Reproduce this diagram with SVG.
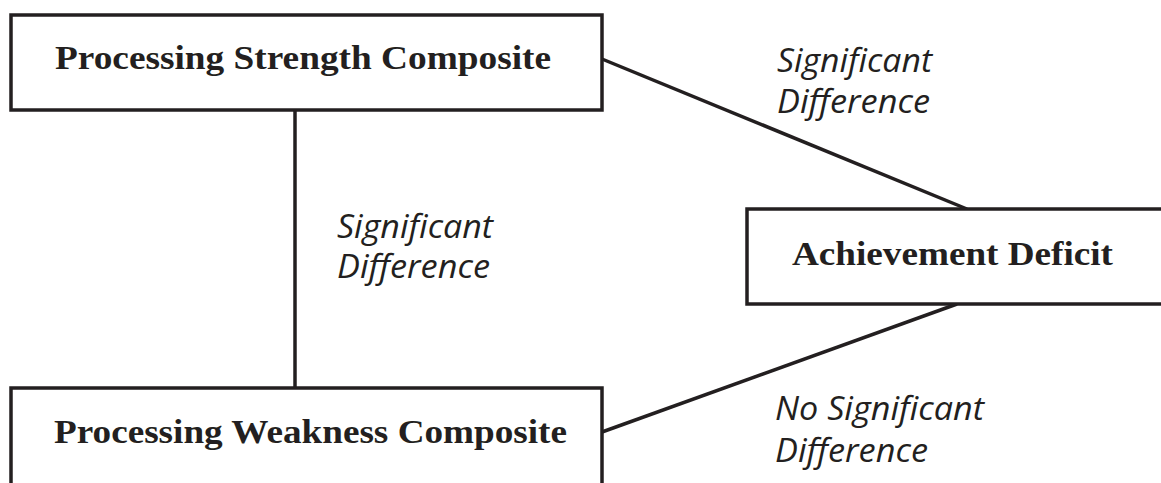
<svg xmlns="http://www.w3.org/2000/svg" width="1161" height="483" viewBox="0 0 1161 483">
<style>
.box{fill:#fff;stroke:#231f20;stroke-width:3.5}
.edge{stroke:#231f20;stroke-width:3.5;fill:none}
.nt{font-family:"Liberation Serif",serif;font-weight:bold;font-size:34px;fill:#231f20}
.lb{font-family:"Open Sans","DejaVu Sans",sans-serif;font-style:italic;font-size:32px;fill:#231f20}
</style>
<rect width="1161" height="483" fill="#fff"/>
<g id="connectors">
<line class="edge" x1="295" y1="110" x2="295" y2="388"/>
<line class="edge" x1="602" y1="59" x2="967" y2="209"/>
<line class="edge" x1="602" y1="432" x2="957" y2="304"/>
</g>
<g id="strength">
<rect class="box" x="11" y="15" width="591" height="95"/>
<text class="nt" x="55" y="69" textLength="496" lengthAdjust="spacingAndGlyphs">Processing Strength Composite</text>
</g>
<g id="weakness">
<rect class="box" x="11" y="388" width="591" height="110"/>
<text class="nt" x="54" y="443" textLength="513" lengthAdjust="spacingAndGlyphs">Processing Weakness Composite</text>
</g>
<g id="achievement">
<rect class="box" x="747" y="209" width="430" height="95"/>
<text class="nt" x="792" y="265" textLength="321" lengthAdjust="spacingAndGlyphs">Achievement Deficit</text>
</g>
<g id="labels">
<text class="lb" x="777" y="72" textLength="155" lengthAdjust="spacingAndGlyphs">Significant</text>
<text class="lb" x="777" y="113" textLength="153" lengthAdjust="spacingAndGlyphs">Difference</text>
<text class="lb" x="337" y="238" textLength="156" lengthAdjust="spacingAndGlyphs">Significant</text>
<text class="lb" x="337" y="278" textLength="153" lengthAdjust="spacingAndGlyphs">Difference</text>
<text class="lb" x="775" y="420" textLength="209" lengthAdjust="spacingAndGlyphs">No Significant</text>
<text class="lb" x="775" y="462" textLength="153" lengthAdjust="spacingAndGlyphs">Difference</text>
</g>
</svg>
